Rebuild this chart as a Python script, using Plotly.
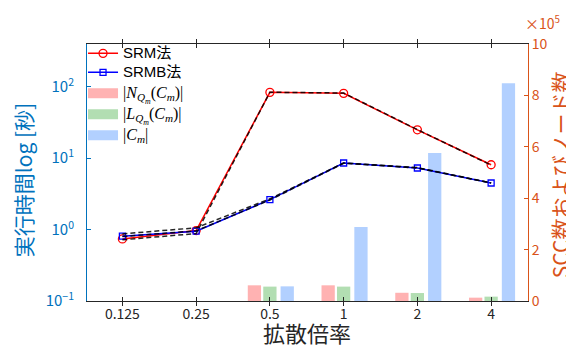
import plotly.graph_objects as go

# ---- data ----
categories = ["0.125", "0.25", "0.5", "1", "2", "4"]
srm_time = [0.74, 0.97, 83.7, 81.0, 25.0, 8.1]
srmb_time = [0.81, 0.95, 2.63, 8.57, 7.3, 4.5]
ref_dash_a = [0.87, 1.06, 2.7, 8.6, 7.4, 4.5]
ref_dash_b = [0.80, 0.96, 2.6, 8.5, 7.3, 4.5]
ref_dash_c = [0.72, 0.88, 84.0, 82.0, 25.2, 8.0]
n_counts = [0, 0, 61000, 61000, 32000, 13000]
l_counts = [0, 0, 56000, 56000, 31000, 17000]
c_counts = [0, 0, 57000, 288000, 576000, 847000]
right_ticks = [0, 2, 4, 6, 8, 10]
left_ticks = [0.1, 1, 10, 100]
left_ticktext = ["10<sup>−1</sup>", "10<sup>0</sup>", "10<sup>1</sup>", "10<sup>2</sup>"]

xi = list(range(len(categories)))
FONT = "Noto Sans CJK JP"
BLUE_AX = "#0072BD"
ORANGE_AX = "#D95319"
GRAY = "#262626"
RED_BAR = "rgb(255,178,178)"
GREEN_BAR = "rgb(178,222,178)"
BLUE_BAR = "rgb(178,208,255)"

fig = go.Figure()

# bars on primary (right-side) axis
for vals, col, off in [(n_counts, RED_BAR, -0.30), (l_counts, GREEN_BAR, -0.09), (c_counts, BLUE_BAR, 0.145)]:
    fig.add_trace(go.Bar(x=xi, y=vals, width=0.18, offset=off, marker=dict(color=col, line=dict(width=0)),
                         showlegend=False, yaxis="y"))

sans = "<span style=\"font-size:15px\">"
# lines on log axis (left)
fig.add_trace(go.Scatter(x=xi, y=srm_time, mode="lines+markers", name=sans + "SRM法</span>",
                         legendgroup="g1",
                         line=dict(color="red", width=1.5),
                         marker=dict(symbol="circle-open", size=8, color="red", line=dict(width=1.3)),
                         yaxis="y2"))
fig.add_trace(go.Scatter(x=xi, y=srmb_time, mode="lines+markers", name=sans + "SRMB法</span>",
                         legendgroup="g1",
                         line=dict(color="blue", width=1.5),
                         marker=dict(symbol="square-open", size=6, color="blue", line=dict(width=1.3)),
                         yaxis="y2"))
for d in [ref_dash_a, ref_dash_b, ref_dash_c]:
    fig.add_trace(go.Scatter(x=xi, y=d, mode="lines", showlegend=False, legendgroup="g1",
                             line=dict(color="rgba(0,0,0,0.85)", width=1.5, dash="5px,3px"), yaxis="y2"))

# legend-only patches for bars
serif = "<span style=\"font-family:'Liberation Serif';font-size:16px\">"
labels = [
    serif + "|<i>N</i><sub><i>Q</i><sub><i>m</i></sub></sub>(<i>C</i><sub><i>m</i></sub>)|</span>",
    serif + "|<i>L</i><sub><i>Q</i><sub><i>m</i></sub></sub>(<i>C</i><sub><i>m</i></sub>)|</span>",
    serif + "|<i>C</i><sub><i>m</i></sub>|</span>",
]
for k, (lab, col) in enumerate(zip(labels, [RED_BAR, GREEN_BAR, BLUE_BAR])):
    fig.add_trace(go.Scatter(x=[None], y=[None], mode="lines", name=lab, legendgroup=f"b{k}",
                             line=dict(color=col, width=12), yaxis="y2"))

fig.update_layout(
    width=574, height=347,
    margin=dict(l=79, r=54, t=36, b=54),
    plot_bgcolor="white", paper_bgcolor="white",
    font=dict(family=FONT, size=14, color=GRAY),
    barmode="overlay",
    xaxis=dict(range=[-0.48, 5.5], tickvals=xi, ticktext=categories,
               showline=True, mirror="allticks", linecolor=GRAY, linewidth=1,
               ticks="inside", ticklen=4, tickcolor=GRAY, showgrid=False, zeroline=False,
               tickfont=dict(size=14, color=GRAY)),
    yaxis=dict(side="right", range=[0, 1_000_000], tickvals=[v * 100000 for v in right_ticks],
               ticktext=[str(v) for v in right_ticks], showline=True, linecolor=ORANGE_AX, linewidth=1,
               ticks="inside", ticklen=4, tickcolor=ORANGE_AX, showgrid=False, zeroline=False,
               tickfont=dict(size=14, color=ORANGE_AX), ticklabelstandoff=0),
    yaxis2=dict(side="left", overlaying="y", type="log", range=[-1, 2.6], tickvals=left_ticks,
                ticktext=left_ticktext, showline=True, linecolor=BLUE_AX, linewidth=1,
                ticks="inside", ticklen=4, tickcolor=BLUE_AX, showgrid=False, zeroline=False,
                tickfont=dict(size=15, color=BLUE_AX), ticklabelstandoff=9),
    legend=dict(x=-0.009, y=1.02, xanchor="left", yanchor="top", bgcolor="rgba(0,0,0,0)",
                font=dict(size=11.5, color="black", family="Liberation Sans, Noto Sans CJK JP"),
                itemwidth=30, tracegroupgap=2, traceorder="grouped"),
    annotations=[
        dict(text="×10<sup>5</sup>", xref="paper", yref="paper", x=1.0, y=1.0,
             xanchor="left", yanchor="bottom", showarrow=False,
             font=dict(size=14, color=ORANGE_AX), xshift=-5, yshift=9),
        dict(text="拡散倍率", xref="paper", yref="paper", x=0.4989, y=-0.12,
             xanchor="center", yanchor="middle", showarrow=False,
             font=dict(size=22, color=GRAY)),
        dict(text="実行時間log [秒]", xref="paper", yref="paper", x=-0.145, y=0.47,
             xanchor="center", yanchor="middle", showarrow=False, textangle=-90,
             font=dict(size=21, color=BLUE_AX)),
        dict(text="SCC数およびノード数", xref="paper", yref="paper", x=1.073, y=0.49,
             xanchor="center", yanchor="middle", showarrow=False, textangle=-90,
             font=dict(size=21, color=ORANGE_AX)),
    ],
)

fig.write_html("out.html")
